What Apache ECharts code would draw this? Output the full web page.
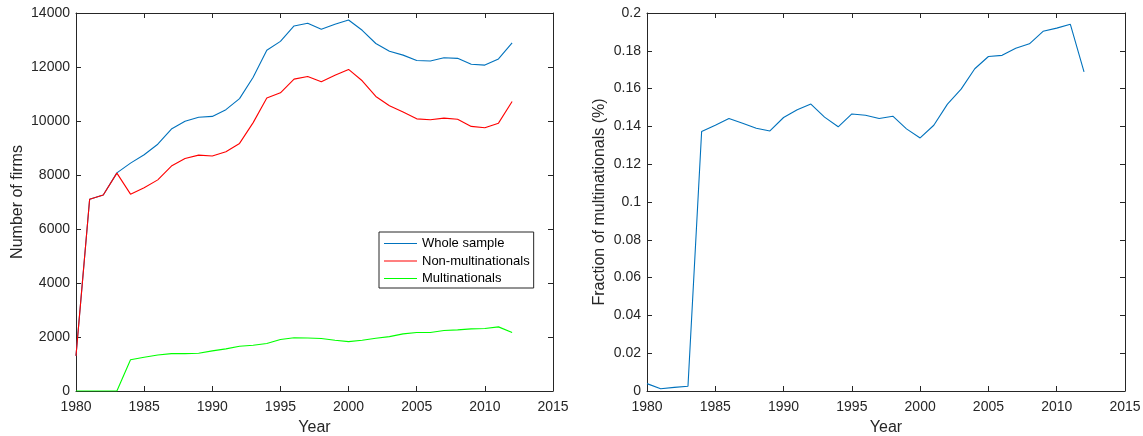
<!DOCTYPE html>
<html>
<head>
<meta charset="utf-8">
<script src="https://cdn.jsdelivr.net/npm/echarts@6/dist/echarts.min.js"></script>
<style>
html,body{margin:0;padding:0;background:#fff;}
#chart{width:1143px;height:436px;}
</style>
</head>
<body>
<div id="chart"></div>
<script>
const years = [1980,1981,1982,1983,1984,1985,1986,1987,1988,1989,1990,1991,1992,1993,1994,1995,1996,1997,1998,1999,2000,2001,2002,2003,2004,2005,2006,2007,2008,2009,2010,2011,2012];
const wholeSample = [1300,7100,7260,8080,8440,8750,9140,9700,9990,10140,10170,10420,10830,11620,12620,12950,13520,13620,13400,13580,13740,13360,12870,12580,12440,12240,12220,12345,12320,12100,12070,12300,12890];
const nonMultinationals = [1300,7100,7260,8070,7290,7530,7820,8330,8610,8735,8705,8860,9170,9940,10850,11045,11550,11650,11455,11690,11910,11490,10910,10565,10330,10080,10045,10105,10065,9800,9750,9920,10725];
const multinationals = [0,0,0,0,1160,1250,1335,1385,1385,1400,1485,1560,1660,1695,1760,1905,1975,1965,1945,1880,1830,1880,1955,2015,2115,2165,2165,2240,2265,2300,2315,2375,2165];
const fractionMultinationals = [0.0039,0.0012,0.0019,0.0025,0.1373,0.1406,0.1442,0.1417,0.139,0.1376,0.1447,0.1488,0.1518,0.1449,0.1398,0.1466,0.1459,0.1442,0.1454,0.1387,0.1339,0.1406,0.1518,0.1597,0.1705,0.177,0.1776,0.1813,0.1837,0.1903,0.192,0.194,0.1689];
const seriesNames = ['Whole sample','Non-multinationals','Multinationals'];
const xTicks = {min:1980, max:2015, interval:5};
const leftY = {min:0, max:14000, interval:2000};
const rightY = {min:0, max:0.2, interval:0.02};

const FONT = 'Liberation Sans, Arial, Helvetica, sans-serif';
const AX = '#262626';
const pair = arr => years.map((y,i)=>[y,arr[i]]);

function xAx(grid, pos, show){
  return {type:'value', gridIndex:grid, position:pos, min:xTicks.min, max:xTicks.max, interval:xTicks.interval,
    name: show ? 'Year' : '', nameLocation:'middle', nameGap:29,
    nameTextStyle:{fontFamily:FONT, fontSize:16, color:AX},
    axisLine:{show:true, onZero:false, lineStyle:{color:AX, width:1}},
    axisTick:{show:true, inside:true, length:5, lineStyle:{color:AX}},
    axisLabel:{show:show, fontFamily:FONT, fontSize:14, color:AX, margin:9, formatter:v=>String(v)},
    splitLine:{show:false}};
}
function yAx(grid, pos, show, r, name, gap){
  return {type:'value', gridIndex:grid, position:pos, min:r.min, max:r.max, interval:r.interval,
    name: show ? name : '', nameLocation:'middle', nameGap:gap,
    nameTextStyle:{fontFamily:FONT, fontSize:16, color:AX},
    axisLine:{show:true, onZero:false, lineStyle:{color:AX, width:1}},
    axisTick:{show:true, inside:true, length:5, lineStyle:{color:AX}},
    axisLabel:{show:show, fontFamily:FONT, fontSize:14, color:AX, margin:6, formatter:v=>String(+v.toFixed(4))},
    splitLine:{show:false}};
}
function line(name, data, color, xi, yi){
  return {type:'line', name:name, data:data, xAxisIndex:xi, yAxisIndex:yi, symbol:'none', showSymbol:false,
    lineStyle:{color:color, width:1.1}, itemStyle:{color:color}, animation:false};
}

const chart = echarts.init(document.getElementById('chart'), null, {renderer:'canvas'});
chart.setOption({
  backgroundColor:'#fff',
  animation:false,
  grid:[
    {left:76, right:590, top:13, bottom:45, outerBoundsMode:'none', containLabel:false},
    {left:647, right:18, top:13, bottom:45, outerBoundsMode:'none', containLabel:false}
  ],
  xAxis:[xAx(0,'bottom',true), xAx(0,'top',false), xAx(1,'bottom',true), xAx(1,'top',false)],
  yAxis:[
    yAx(0,'left',true,leftY,'Number of firms',50),
    yAx(0,'right',false,leftY,'',0),
    yAx(1,'left',true,rightY,'Fraction of multinationals (%)',39),
    yAx(1,'right',false,rightY,'',0)
  ],
  legend:{
    data:seriesNames.map(n=>({name:n, icon:'rect'})), orient:'vertical', left:379, top:232,
    padding:[5,4,3,5], itemGap:4.5, itemWidth:33, itemHeight:1,
    backgroundColor:'#fff', borderColor:AX, borderWidth:1, borderRadius:0,
    textStyle:{fontFamily:FONT, fontSize:13, color:'#000'}
  },
  series:[
    line(seriesNames[0], pair(wholeSample), '#0072BD', 0, 0),
    line(seriesNames[1], pair(nonMultinationals), '#FF0000', 0, 0),
    line(seriesNames[2], pair(multinationals), '#00FF00', 0, 0),
    line('Fraction', pair(fractionMultinationals), '#0072BD', 2, 2)
  ]
});
</script>
</body>
</html>
